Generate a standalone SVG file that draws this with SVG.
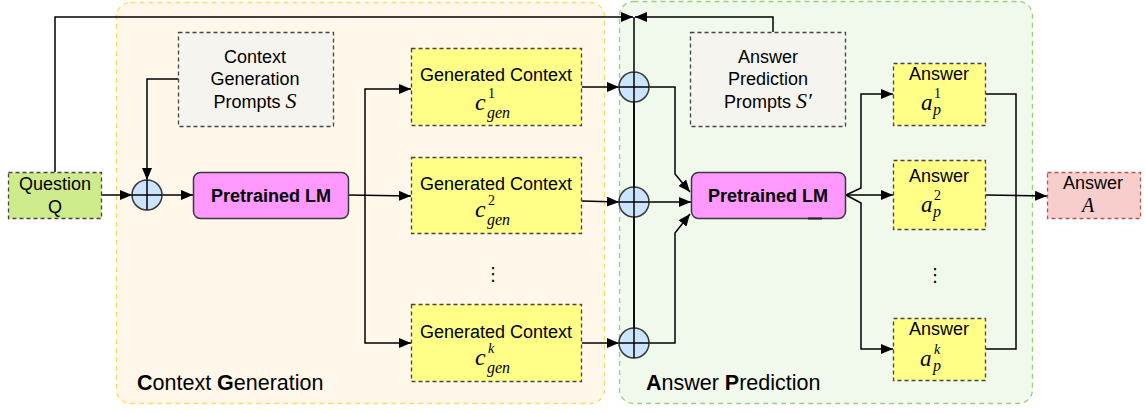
<svg xmlns="http://www.w3.org/2000/svg" width="1145" height="412" viewBox="0 0 1145 412">
<defs>
<marker id="arr" viewBox="0 0 12 10" refX="12" refY="5" markerWidth="12" markerHeight="10" markerUnits="userSpaceOnUse" orient="auto">
<path d="M0,0 L12,5 L0,10 z" fill="#000"/>
</marker>
</defs>
<style>
.t{font-family:"Liberation Sans",Arial,sans-serif;font-size:18px;fill:#000;text-anchor:middle}
.b{font-weight:bold}
.m{font-family:"Liberation Serif","Times New Roman",serif;font-style:italic;fill:#000}
.u{font-family:"Liberation Serif","Times New Roman",serif;fill:#000}
.lbl{font-family:"Liberation Sans",Arial,sans-serif;font-size:21.5px;fill:#000}
.ybox{fill:#FFFF88;stroke:#444;stroke-width:1.3;stroke-dasharray:4 3}
.pbox{fill:#F6F4EE;stroke:#444;stroke-width:1.3;stroke-dasharray:4 3}
.lm{fill:#FF99FF;stroke:#36393D;stroke-width:1.5}
.circ{fill:#CCE5FF;stroke:#36393D;stroke-width:1.5}
.ln{fill:none;stroke:#000;stroke-width:1.5}
.la{fill:none;stroke:#000;stroke-width:1.5;marker-end:url(#arr)}
.dots{font-family:"DejaVu Sans",sans-serif;font-size:18px;fill:#000;text-anchor:middle}
</style>

<g id="context-generation-group">
<rect x="116.5" y="2.5" width="488" height="401" rx="14" fill="#FFF7EA" stroke="#FFD966" stroke-width="1.3" stroke-dasharray="5 4"/>
<text class="lbl" x="137" y="390"><tspan font-weight="bold">C</tspan>ontext <tspan font-weight="bold">G</tspan>eneration</text>
</g>
<g id="answer-prediction-group">
<rect x="619.5" y="1.5" width="413" height="402" rx="14" fill="#F1F8EC" stroke="#97D077" stroke-width="1.3" stroke-dasharray="5 4"/>
<text class="lbl" x="646" y="390"><tspan font-weight="bold">A</tspan>nswer <tspan font-weight="bold">P</tspan>rediction</text>
</g>

<g id="connectors">
<polyline class="la" points="55,172 55,17 633,17"/>
<polyline class="la" points="773,32 773,17 635,17"/>
<line class="ln" x1="634" y1="17" x2="634" y2="358"/>
<polyline class="la" points="178,79 147,79 147,180"/>
<line class="la" x1="101" y1="195" x2="132" y2="195"/>
<line class="la" x1="162" y1="195" x2="193" y2="195"/>
<line class="la" x1="349" y1="195" x2="411" y2="196"/>
<polyline class="la" points="365,195 365,89 411,89"/>
<polyline class="la" points="365,195 365,343 411,343"/>
<line class="la" x1="582" y1="87" x2="619" y2="87"/>
<line class="la" x1="582" y1="201" x2="619" y2="202"/>
<line class="la" x1="582" y1="343" x2="619" y2="343"/>
<polyline class="la" points="649,87 675,87 675,174 690,192"/>
<line class="la" x1="649" y1="202" x2="691" y2="202"/>
<polyline class="la" points="649,343 675,343 675,233 690,214"/>
<polyline class="la" points="846,195 861,188 861,94 893,94"/>
<line class="la" x1="846" y1="195" x2="893" y2="195"/>
<polyline class="la" points="846,195 861,203 861,349 893,349"/>
<polyline class="ln" points="986,94 1016,94 1016,349 986,349"/>
<line class="la" x1="986" y1="195" x2="1047" y2="196"/>
</g>

<g id="question">
<rect x="8.5" y="172.5" width="93" height="46" fill="#CDEB8B" stroke="#444" stroke-width="1.3" stroke-dasharray="4 3"/>
<text class="t" x="55" y="190">Question</text>
<text class="t" x="55" y="213">Q</text>
</g>

<g id="context-prompts">
<rect class="pbox" x="178.5" y="32.5" width="155" height="94"/>
<text class="t" x="255" y="63">Context</text>
<text class="t" x="255" y="85">Generation</text>
<text class="t" x="255" y="108"><tspan>Prompts </tspan><tspan class="m" font-size="22">S</tspan></text>
</g>

<g id="plus1">
<circle class="circ" cx="147" cy="195" r="15"/>
<line class="ln" x1="132" y1="195" x2="162" y2="195" stroke="#36393D"/>
<line class="ln" x1="147" y1="180" x2="147" y2="210" stroke="#36393D"/>
</g>

<g id="lm1">
<rect class="lm" x="193.5" y="172.5" width="155" height="46" rx="7"/>
<text class="t b" x="271" y="201.5">Pretrained LM</text>
</g>

<g id="gc1">
<rect class="ybox" x="411.5" y="48.5" width="170" height="77"/>
<text class="t" x="496" y="81">Generated Context</text>
<text class="m" x="475" y="110" font-size="24">c</text>
<text class="u" x="488" y="98" font-size="14">1</text>
<text class="m" x="487" y="118" font-size="16">gen</text>
</g>
<g id="gc2">
<rect class="ybox" x="411.5" y="157.5" width="170" height="76"/>
<text class="t" x="496" y="190">Generated Context</text>
<text class="m" x="475" y="217" font-size="24">c</text>
<text class="u" x="488" y="205" font-size="14">2</text>
<text class="m" x="487" y="225" font-size="16">gen</text>
</g>
<text class="dots" x="493" y="280">⋮</text>
<g id="gc3">
<rect class="ybox" x="411.5" y="304.5" width="170" height="77"/>
<text class="t" x="496" y="338">Generated Context</text>
<text class="m" x="475" y="365" font-size="24">c</text>
<text class="m" x="488" y="353" font-size="14">k</text>
<text class="m" x="487" y="373" font-size="16">gen</text>
</g>

<g id="plus2">
<circle class="circ" cx="634" cy="87" r="15"/>
<line class="ln" x1="619" y1="87" x2="649" y2="87" stroke="#36393D"/>
</g>
<g id="plus3">
<circle class="circ" cx="634" cy="202" r="15"/>
<line class="ln" x1="619" y1="202" x2="649" y2="202" stroke="#36393D"/>
</g>
<g id="plus4">
<circle class="circ" cx="634" cy="343" r="15"/>
<line class="ln" x1="619" y1="343" x2="649" y2="343" stroke="#36393D"/>
</g>
<line class="ln" x1="634" y1="72" x2="634" y2="358" stroke="#36393D"/>

<g id="answer-prompts">
<rect class="pbox" x="690.5" y="32.5" width="155" height="94"/>
<text class="t" x="768" y="63">Answer</text>
<text class="t" x="768" y="85">Prediction</text>
<text class="t" x="768" y="108"><tspan>Prompts </tspan><tspan class="m" font-size="22">S′</tspan></text>
</g>

<g id="lm2">
<rect class="lm" x="691.5" y="172.5" width="154" height="46" rx="7"/>
<text class="t b" x="768" y="201.5">Pretrained LM</text>
<line x1="808" y1="218.5" x2="822" y2="218.5" stroke="#222" stroke-width="2"/>
</g>

<g id="answer1">
<rect class="ybox" x="893.5" y="63.5" width="92" height="62"/>
<text class="t" x="939" y="80">Answer</text>
<text class="m" x="921" y="110" font-size="23">a</text>
<text class="u" x="934" y="98" font-size="14">1</text>
<text class="m" x="933" y="115" font-size="16">p</text>
</g>
<g id="answer2">
<rect class="ybox" x="893.5" y="160.5" width="92" height="69"/>
<text class="t" x="939" y="182">Answer</text>
<text class="m" x="921" y="212" font-size="23">a</text>
<text class="u" x="934" y="200" font-size="14">2</text>
<text class="m" x="933" y="217" font-size="16">p</text>
</g>
<text class="dots" x="935" y="281">⋮</text>
<g id="answerk">
<rect class="ybox" x="893.5" y="318.5" width="92" height="62"/>
<text class="t" x="939" y="335">Answer</text>
<text class="m" x="920" y="366" font-size="23">a</text>
<text class="m" x="934" y="354" font-size="14">k</text>
<text class="m" x="933" y="371" font-size="16">p</text>
</g>

<g id="final-answer">
<rect x="1047.5" y="172.5" width="93" height="46" fill="#F8CECC" stroke="#B85450" stroke-width="1.3" stroke-dasharray="4 3"/>
<text class="t" x="1093" y="189">Answer</text>
<text class="m" x="1088" y="212" font-size="20" text-anchor="middle">A</text>
</g>
</svg>
